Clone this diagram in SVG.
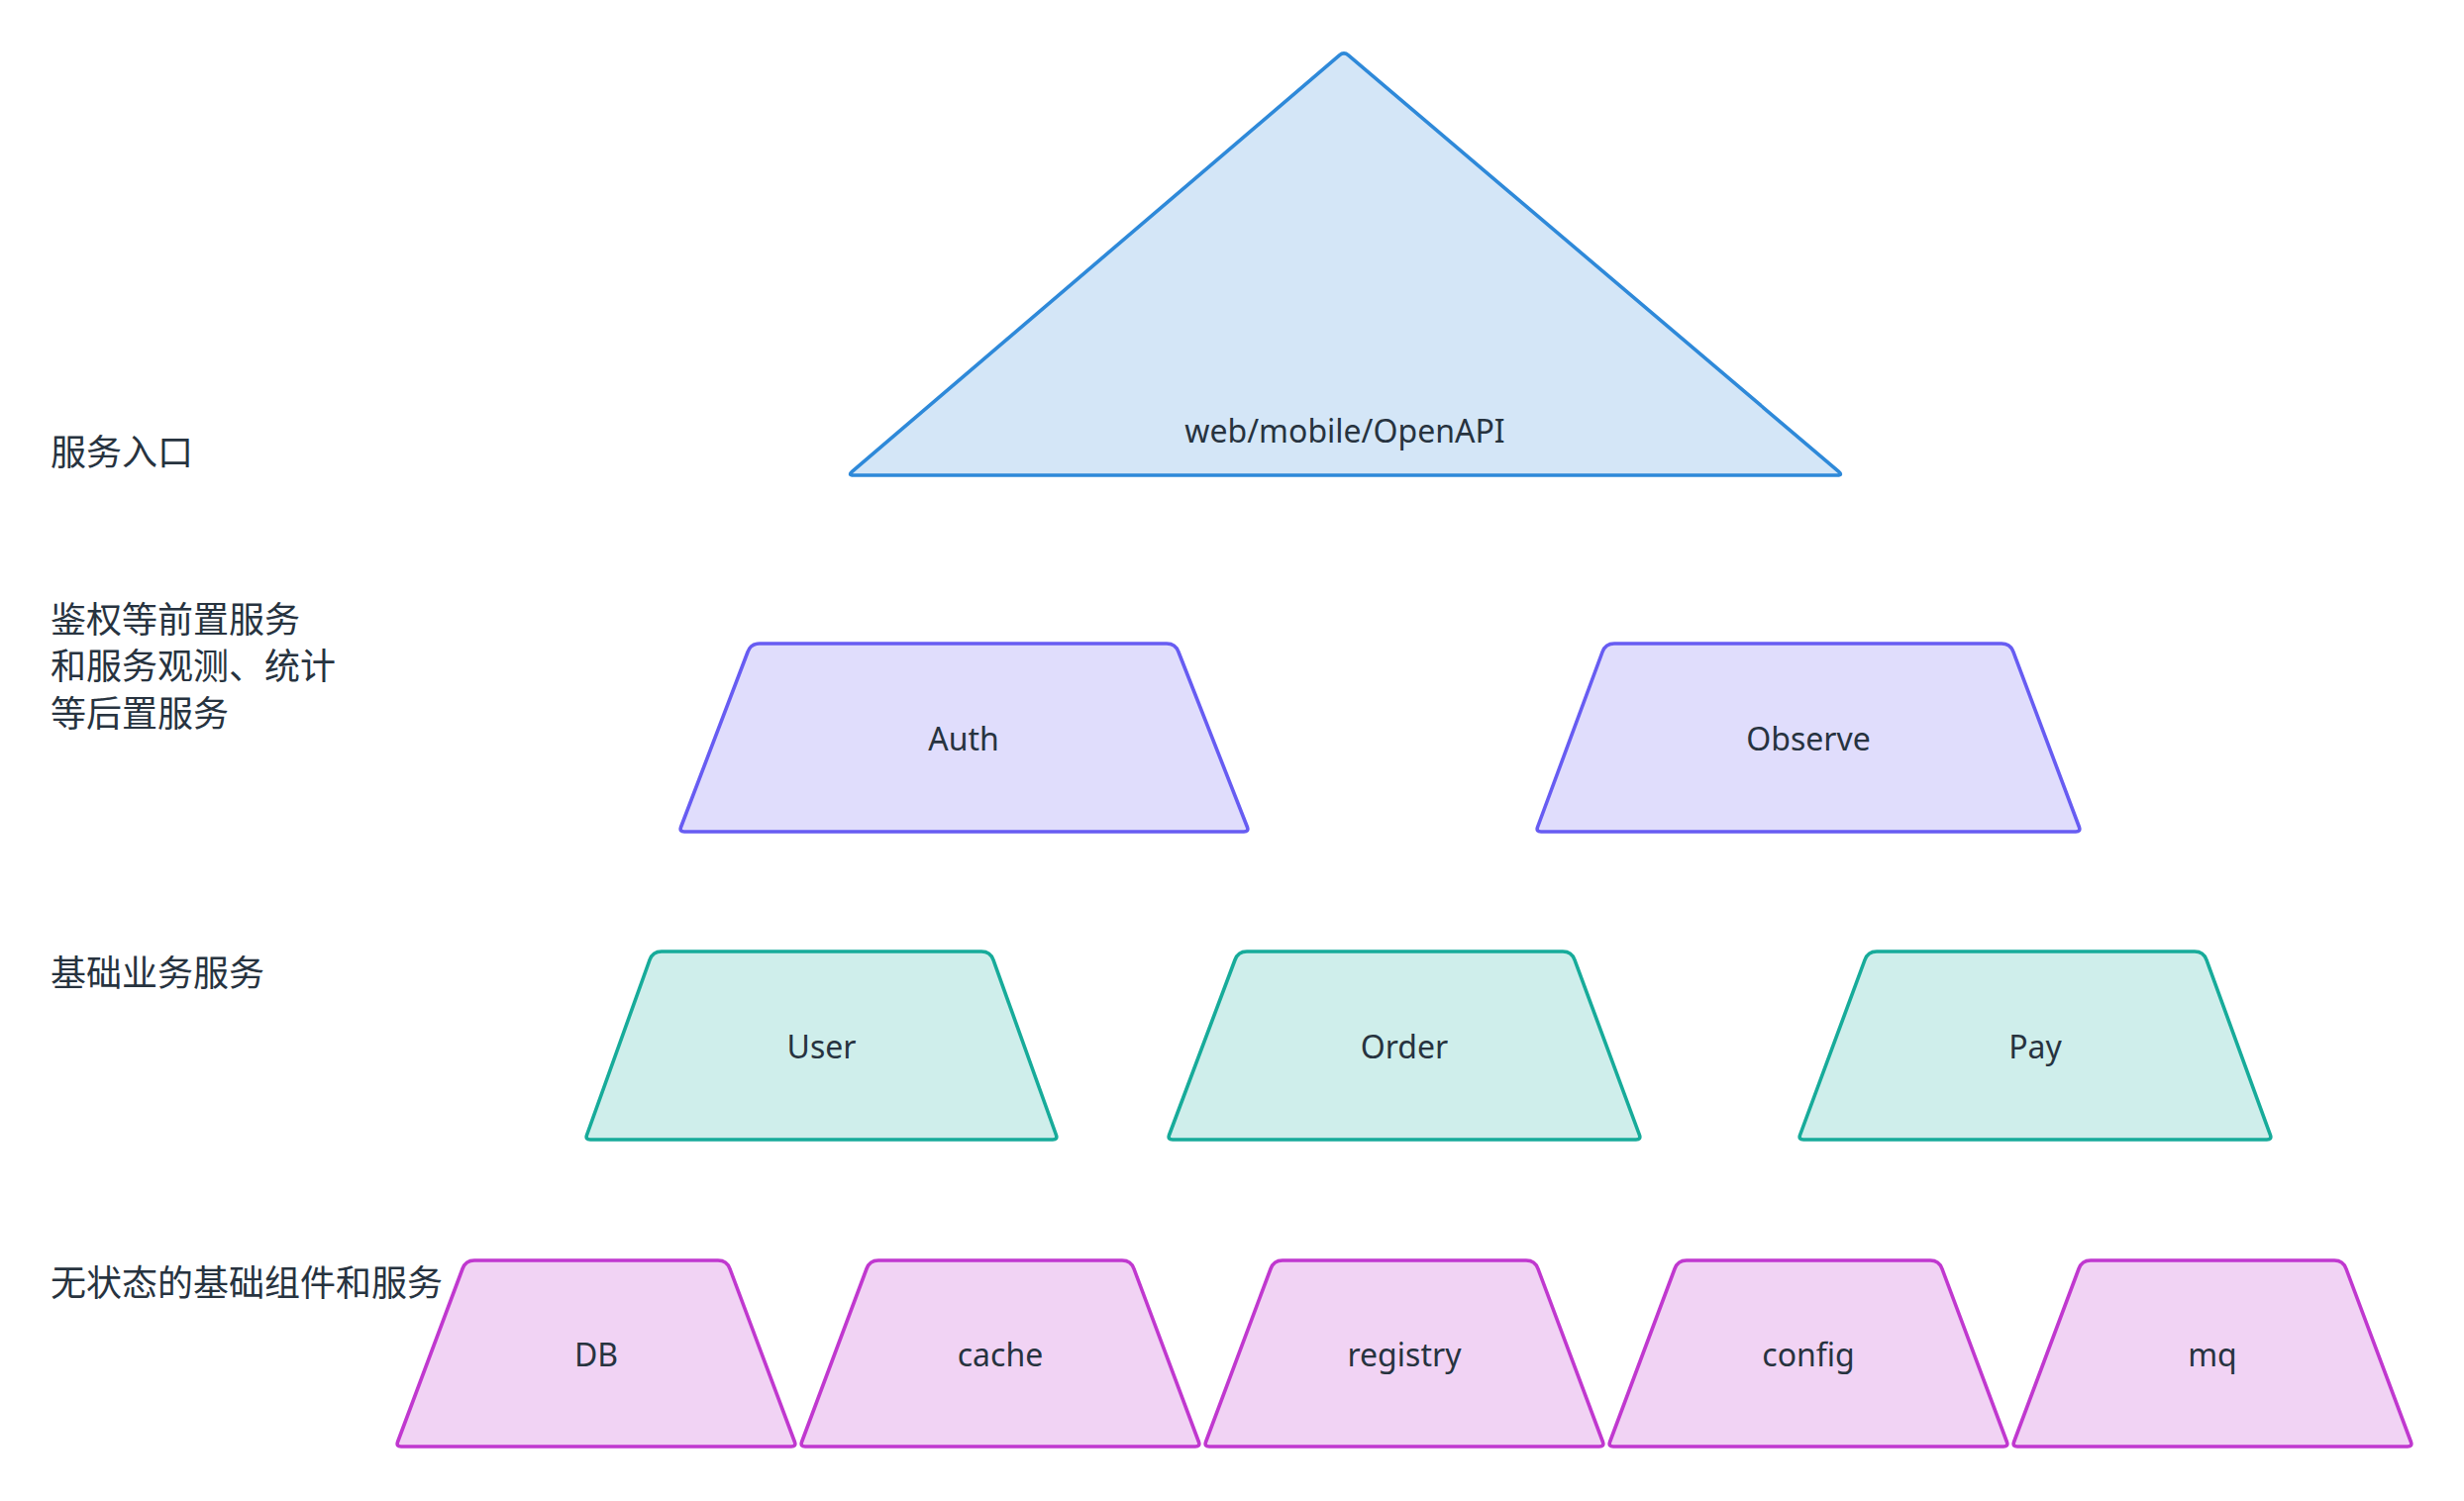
<svg xmlns="http://www.w3.org/2000/svg" width="2488" height="1516" viewBox="0 0 2488 1516">
<style>
.lbl{font-family:"Noto Sans CJK SC","Noto Sans",sans-serif;font-size:36px;fill:#27333f}
.t{font-family:"Noto Sans","Noto Sans CJK SC",sans-serif;font-size:32px;fill:#27333f;text-anchor:middle;dominant-baseline:central}
.blue{fill:#d4e6f7;stroke:#2e89d9;stroke-width:3.6;stroke-linejoin:round}
.pur{fill:#e0ddfc;stroke:#675cf2;stroke-width:3.6;stroke-linejoin:round}
.teal{fill:#cfeeeb;stroke:#17ab9a;stroke-width:3.6;stroke-linejoin:round}
.mag{fill:#f1d3f4;stroke:#c038cf;stroke-width:3.6;stroke-linejoin:round}
</style>
<defs>
<path id="trap4" d="M79,0 H325 Q334,0 337,8.5 L402.5,183.5 Q404,188 399,188 H5 Q0,188 1.5,183.5 L67,8.5 Q70,0 79,0 Z"/>
</defs>
<rect width="2488" height="1516" fill="#ffffff"/>
<g id="labels">
<text class="lbl" x="51" y="470">服务入口</text>
<text class="lbl" x="51" y="639">鉴权等前置服务</text>
<text class="lbl" x="51" y="686">和服务观测、统计</text>
<text class="lbl" x="51" y="734">等后置服务</text>
<text class="lbl" x="51" y="996">基础业务服务</text>
<text class="lbl" x="51" y="1309">无状态的基础组件和服务</text>
</g>
<g id="connectors"></g>
<g id="entry">
<path class="blue" d="M1352.4,55.9 Q1357,52 1361.6,55.9 L1856.4,476.1 Q1861,480 1855,480 H862 Q856,480 860.6,476.1 Z"/>
<text class="t" x="1358" y="434">web/mobile/OpenAPI</text>
</g>
<g id="auth">
<path class="pur" d="M767,650 H1178 Q1187,650 1190,658.5 L1259.5,835.5 Q1261,840 1256,840 H691 Q686,840 687.5,835.5 L755,658.5 Q758,650 767,650 Z"/>
<text class="t" x="973" y="745">Auth</text>
</g>
<g id="observe">
<path class="pur" d="M1630,650 H2021 Q2030,650 2033,658.5 L2099.5,835.5 Q2101,840 2096,840 H1556 Q1551,840 1552.5,835.5 L1618,658.5 Q1621,650 1630,650 Z"/>
<text class="t" x="1826" y="745">Observe</text>
</g>
<g id="user">
<path class="teal" d="M668,961 H991 Q1000,961 1003,969.5 L1066.5,1146.5 Q1068,1151 1063,1151 H596 Q591,1151 592.5,1146.5 L656,969.5 Q659,961 668,961 Z"/>
<text class="t" x="829.5" y="1056">User</text>
</g>
<g id="order">
<path class="teal" d="M1259,961 H1578 Q1587,961 1590,969.5 L1655.5,1146.5 Q1657,1151 1652,1151 H1184 Q1179,1151 1180.5,1146.5 L1247,969.5 Q1250,961 1259,961 Z"/>
<text class="t" x="1418" y="1056">Order</text>
</g>
<g id="pay">
<path class="teal" d="M1895,961 H2216 Q2225,961 2228,969.5 L2292.5,1146.5 Q2294,1151 2289,1151 H1821 Q1816,1151 1817.5,1146.5 L1883,969.5 Q1886,961 1895,961 Z"/>
<text class="t" x="2055" y="1056">Pay</text>
</g>
<g id="db">
<use href="#trap4" class="mag" transform="translate(400,1273)"/>
<text class="t" x="602" y="1367">DB</text>
</g>
<g id="cache">
<use href="#trap4" class="mag" transform="translate(808,1273)"/>
<text class="t" x="1010" y="1367">cache</text>
</g>
<g id="registry">
<use href="#trap4" class="mag" transform="translate(1216,1273)"/>
<text class="t" x="1418" y="1367">registry</text>
</g>
<g id="config">
<use href="#trap4" class="mag" transform="translate(1624,1273)"/>
<text class="t" x="1826" y="1367">config</text>
</g>
<g id="mq">
<use href="#trap4" class="mag" transform="translate(2032,1273)"/>
<text class="t" x="2234" y="1367">mq</text>
</g>
</svg>
